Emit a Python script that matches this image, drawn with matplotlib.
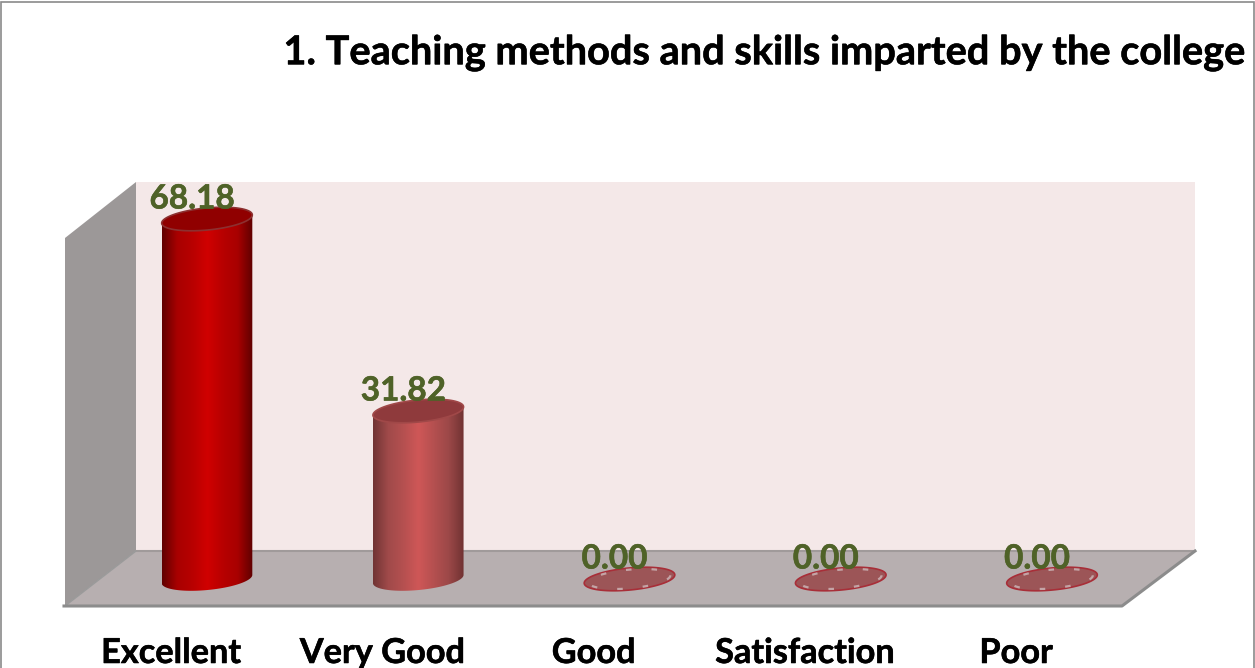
import numpy as np
import matplotlib
matplotlib.use('Agg')
import matplotlib.pyplot as plt
import matplotlib.patheffects as pe
from matplotlib.colors import LinearSegmentedColormap
from matplotlib.patches import Polygon, Rectangle
from matplotlib.transforms import Affine2D

categories = ['Excellent', 'Very Good', 'Good', 'Satisfaction', 'Poor']
values = [68.18, 31.82, 0.00, 0.00, 0.00]
title = '1. Teaching methods and skills imparted by the college'

W, H = 1255, 668
PX_PER_CAT = 211.25
PX_PER_VAL = 5.28
X0, Y0 = 207.0, 579.0
# half axes and tilt of the cylinder ends, in pixels
A, B, TILT = 45.5, 11.0, np.radians(5.5)

plt.rcParams['font.family'] = ['Lato', 'DejaVu Sans']

fig = plt.figure(figsize=(W / 100, H / 100), dpi=100, facecolor='white')
ax = fig.add_axes([0, 0, 1, 1])
ax.set_xlim(-X0 / PX_PER_CAT, (W - X0) / PX_PER_CAT)
ax.set_ylim((Y0 - H) / PX_PER_VAL, Y0 / PX_PER_VAL)
ax.axis('off')

# picture pixels, y going down, for the chart's frame
px = Affine2D().scale(1 / W, -1 / H).translate(0, 1) + fig.transFigure
heavy = [pe.withStroke(linewidth=0.4, foreground='black')]
heavy_green = [pe.withStroke(linewidth=0.4, foreground='#4f6228')]


def poly(points, face):
    ax.add_patch(Polygon(points, closed=True, facecolor=face, edgecolor='none',
                         transform=px, zorder=1))


# frame of the 3D box
ax.add_patch(Rectangle((1, 2), W - 2, H + 5, facecolor='white', edgecolor='#8a8a8a',
                       linewidth=1.2, transform=px, zorder=0))
poly([(136, 182), (1195, 182), (1195, 551), (136, 551)], '#f4e8e8')
poly([(65, 238), (136, 182), (136, 551), (65, 606)], '#9c9898')
poly([(136, 551), (1195, 551), (1122, 606), (65, 606)], '#b7afb0')
ax.plot([136, 1195], [551, 551], color='#a09a9a', lw=1.5, transform=px, zorder=2)
ax.plot([136, 65], [551, 606], color='#9a9a9a', lw=1, transform=px, zorder=2)
ax.plot([64, 1122, 1195], [606, 606, 551], color='#8c8c8c', lw=2.2, transform=px, zorder=2)


def ellipse(xc, val, t):
    # tilted ellipse in data units, centred on the category and value
    dx = A * np.cos(t) * np.cos(TILT) + B * np.sin(t) * np.sin(TILT)
    dy = A * np.cos(t) * np.sin(TILT) - B * np.sin(t) * np.cos(TILT)
    return xc + dx / PX_PER_CAT, val + dy / PX_PER_VAL


full_turn = np.linspace(0, 2 * np.pi, 200)
t0 = np.arctan2(B * np.sin(TILT), A * np.cos(TILT))
front_arc = np.linspace(t0, t0 + np.pi, 100)


def cylinder(i, val, ramp, top_col, edge_col):
    bx, by = ellipse(i, 0, front_arc)
    tx, ty = ellipse(i, val, front_arc)
    pts = np.column_stack([np.r_[bx, tx[::-1]], np.r_[by, ty[::-1]]])
    body = Polygon(pts, closed=True, transform=ax.transData, facecolor='none', edgecolor='none')
    ax.add_patch(body)
    cmap = LinearSegmentedColormap.from_list('c', ramp)
    im = ax.imshow(np.linspace(0, 1, 256).reshape(1, -1), cmap=cmap, aspect='auto',
                   extent=[bx.min(), bx.max(), -5, val + 3], zorder=3)
    im.set_clip_path(body)
    ax.set_xlim(-X0 / PX_PER_CAT, (W - X0) / PX_PER_CAT)
    ax.set_ylim((Y0 - H) / PX_PER_VAL, Y0 / PX_PER_VAL)
    ex, ey = ellipse(i, val, full_turn)
    ax.fill(ex, ey, facecolor=top_col, edgecolor=edge_col, linewidth=1.2, zorder=4)


red_ramp = ['#600000', '#a80000', '#b80000', '#d00000', '#b80000', '#a80000', '#5e0000']
rose_ramp = ['#703434', '#a04a4a', '#b55050', '#cf5757', '#b55050', '#9c4848', '#703232']
ramps = [red_ramp, rose_ramp]
tops = ['#900000', '#8f3a3c']
edges = ['#8c3030', '#a04848']

for i, val in enumerate(values):
    if val > 0:
        cylinder(i, val, ramps[i], tops[i], edges[i])
    else:
        ex, ey = ellipse(i, val, full_turn)
        ax.fill(ex, ey, facecolor='#9c5557', edgecolor='#a82e38', linewidth=1.2, zorder=4)
        ax.plot(i + (ex - i) * 0.9, ey * 0.85, color='#c4a4a6', lw=1.6,
                linestyle=(0, (2.5, 9)), zorder=5)
    ax.annotate(f'{val:.2f}', (i, val), xytext=(-15, 20), textcoords='offset pixels',
                ha='center', va='center', fontsize=24, fontweight='bold', color='#4f6228',
                path_effects=heavy_green, zorder=6)
    ax.annotate(categories[i], (i, 0), xytext=(-36, -74), textcoords='offset pixels',
                ha='center', va='center', fontsize=24.7, fontweight='bold', color='black',
                path_effects=heavy, annotation_clip=False, zorder=6)

ax.text(764, 53, title, transform=px, ha='center', va='center', fontsize=28.6,
        fontweight='bold', color='black', path_effects=heavy, zorder=6)

fig.savefig('out.png', dpi=100)
